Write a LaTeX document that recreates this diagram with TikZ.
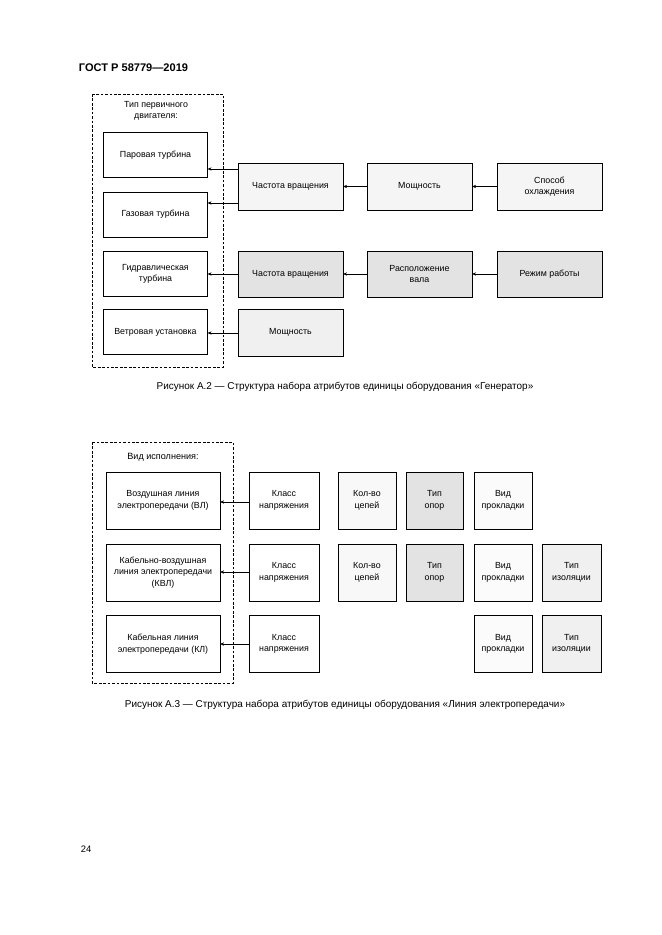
\documentclass[tikz,border=0pt]{standalone}
\usepackage{fontspec}
\setmainfont{Liberation Sans}
\usetikzlibrary{arrows.meta}
\begin{document}
\begin{tikzpicture}[x=0.3177mm,y=-0.3177mm,
  box/.style={draw=black,line width=0.4pt,align=center,inner sep=1pt,font=\fontsize{8}{10.5}\selectfont},
  grp/.style={draw=black,line width=0.45pt,dash pattern=on 2.5pt off 1.5pt},
  arr/.style={-{Stealth[length=3.5pt,width=3pt]},line width=0.45pt},
  capt/.style={font=\fontsize{9}{11}\selectfont,anchor=center}]
\useasboundingbox[fill=white] (0,0) rectangle (661,935);
\definecolor{fa}{HTML}{F5F5F5}
\definecolor{fb}{HTML}{E3E3E3}
\definecolor{fc}{HTML}{F0F0F0}
\definecolor{fd}{HTML}{F8F8F8}
\definecolor{fe}{HTML}{FBFBFB}
% header
\node[anchor=west,font=\fontsize{10}{12}\selectfont\bfseries] (hdr) at (75,68) {ГОСТ Р 58779—2019};
% ===== Figure A.2 =====
\draw[grp] (92,94) rectangle (223,367);
\node[font=\fontsize{8}{10.5}\selectfont,align=center] (t2) at (156,111) {Тип первичного\\двигателя:};
\node[box,fill=white,minimum width=33mm,minimum height=14.3mm] (p1) at (155.5,155) {Паровая турбина};
\node[box,fill=white,minimum width=33mm,minimum height=14.3mm] (p2) at (155.5,214.5) {Газовая турбина};
\node[box,fill=white,minimum width=33mm,minimum height=14.3mm] (p3) at (155.5,274) {Гидравлическая\\турбина};
\node[box,fill=white,minimum width=33mm,minimum height=14.3mm] (p4) at (155.5,332) {Ветровая установка};
\node[box,fill=fa,minimum width=33.3mm,minimum height=14.9mm] (c1) at (290.5,186.5) {Частота вращения};
\node[box,fill=fa,minimum width=33.3mm,minimum height=14.9mm] (m1) at (419.5,186.5) {Мощность};
\node[box,fill=fa,minimum width=33.3mm,minimum height=14.9mm] (s1) at (549.5,186.5) {Способ\\охлаждения};
\node[box,fill=fb,minimum width=33.3mm,minimum height=14.6mm] (c2) at (290.5,274) {Частота вращения};
\node[box,fill=fb,minimum width=33.3mm,minimum height=14.6mm] (r2) at (419.5,274) {Расположение\\вала};
\node[box,fill=fb,minimum width=33.3mm,minimum height=14.6mm] (w2) at (549.5,274) {Режим работы};
\node[box,fill=fc,minimum width=33.3mm,minimum height=14.9mm] (m3) at (290.5,332.5) {Мощность};
\draw[arr] (c1.west |- 0,169) -- (p1.east |- 0,169);
\draw[arr] (c1.west |- 0,203) -- (p2.east |- 0,203);
\draw[arr] (c2.west |- 0,274) -- (p3.east |- 0,274);
\draw[arr] (m3.west |- 0,333) -- (p4.east |- 0,333);
\draw[arr] (m1.west) -- (c1.east);
\draw[arr] (s1.west) -- (m1.east);
\draw[arr] (r2.west) -- (c2.east);
\draw[arr] (w2.west) -- (r2.east);
\node[capt] (cap2) at (345,387) {Рисунок А.2 — Структура набора атрибутов единицы оборудования «Генератор»};
% ===== Figure A.3 =====
\draw[grp] (92,442) rectangle (233,683);
\node[font=\fontsize{8.2}{10}\selectfont] (t3) at (163,457) {Вид исполнения:};
\node[box,fill=white,minimum width=36.2mm,minimum height=18.1mm] (v1) at (163,500.5) {Воздушная линия\\электропередачи (ВЛ)};
\node[box,fill=white,minimum width=36.2mm,minimum height=18.1mm] (v2) at (163,572.5) {Кабельно-воздушная\\линия электропередачи\\(КВЛ)};
\node[box,fill=white,minimum width=36.2mm,minimum height=18.1mm] (v3) at (163,644) {Кабельная линия\\электропередачи (КЛ)};
\foreach \r/\y in {1/500.5,2/572.5,3/644}{
  \node[box,fill=white,minimum width=22.2mm,minimum height=18.1mm] (k\r) at (284,\y) {Класс\\напряжения};
}
\foreach \r/\y in {1/500.5,2/572.5}{
  \node[box,fill=fd,minimum width=18.4mm,minimum height=18.1mm] (n\r) at (367,\y) {Кол-во\\цепей};
  \node[box,fill=fb,minimum width=18.1mm,minimum height=18.1mm] (o\r) at (434.5,\y) {Тип\\опор};
}
\foreach \r/\y in {1/500.5,2/572.5,3/644}{
  \node[box,fill=fe,minimum width=18.4mm,minimum height=18.1mm] (g\r) at (503,\y) {Вид\\прокладки};
}
\foreach \r/\y in {2/572.5,3/644}{
  \node[box,fill=fc,minimum width=18.7mm,minimum height=18.1mm] (i\r) at (571.5,\y) {Тип\\изоляции};
}
\draw[arr] (k1.west |- 0,502) -- (v1.east |- 0,502);
\draw[arr] (k2.west |- 0,572) -- (v2.east |- 0,572);
\draw[arr] (k3.west |- 0,644) -- (v3.east |- 0,644);
\node[capt] (cap3) at (345,705) {Рисунок А.3 — Структура набора атрибутов единицы оборудования «Линия электропередачи»};
\node[anchor=west,font=\fontsize{8.5}{10}\selectfont] (pg) at (77,849) {24};
\end{tikzpicture}
\end{document}
